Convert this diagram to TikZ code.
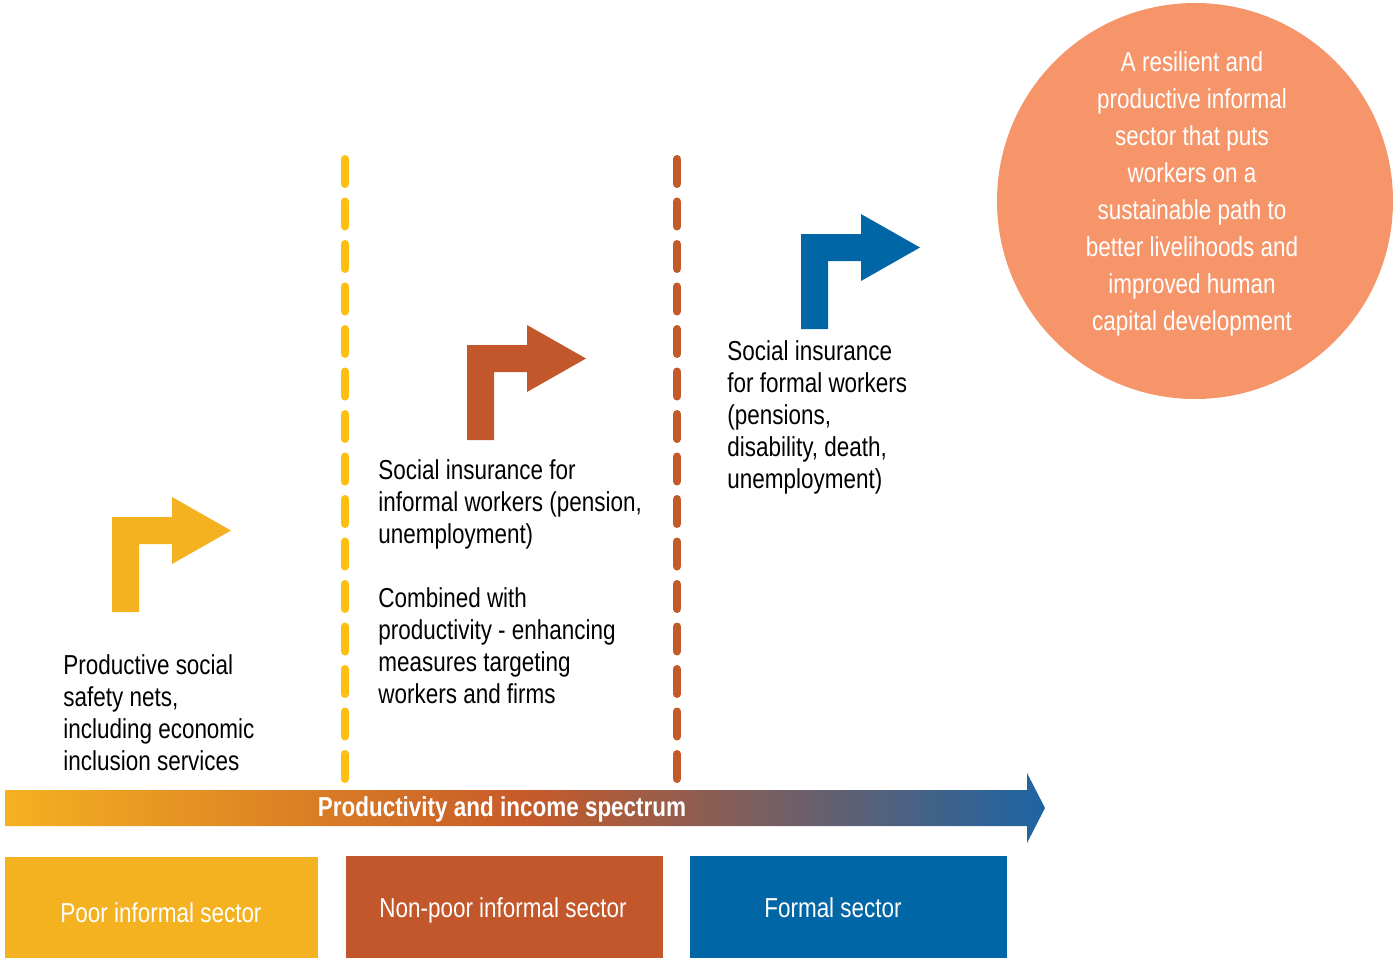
\documentclass[tikz,border=0pt]{standalone}
\usepackage{fontspec}
\setmainfont{Liberation Sans}[FakeStretch=0.82]
\definecolor{cyel}{HTML}{F4B120}
\definecolor{cora}{HTML}{C1572B}
\definecolor{cblu}{HTML}{0166A5}
\definecolor{cdyel}{HTML}{FDC010}
\definecolor{cdora}{HTML}{C35A2A}
\definecolor{ccirc}{HTML}{F6956A}
\definecolor{cgrmid}{HTML}{C75A29}
\definecolor{cgrend}{HTML}{1D64A3}
\begin{document}
\begin{tikzpicture}[x=0.5pt,y=-0.5pt,
  txt/.style={inner sep=0pt,font=\fontsize{13.7pt}{16pt}\selectfont,align=left,anchor=north west},
  wtxt/.style={inner sep=0pt,font=\fontsize{13.7pt}{16pt}\selectfont,text=white,anchor=base},
  sep/.style={line width=4pt,line cap=round,dash pattern=on 12.5pt off 8.75pt}]
\useasboundingbox (0,0) rectangle (1394,958);
% separators
\coordinate (s1t) at (345,159); \coordinate (s1b) at (345,779);
\coordinate (s2t) at (677,159); \coordinate (s2b) at (677,779);
\draw[sep,cdyel] (s1t) -- (s1b);
\draw[sep,cdora] (s2t) -- (s2b);
% bent arrows
\foreach \px/\py/\cc in {112/517/cyel,467/345/cora,801/234/cblu}{
\begin{scope}[shift={(\px,\py)}]
\fill[\cc] (0,95) -- (0,0) -- (60,0) -- (60,-20) -- (119,13.5) -- (60,47) -- (60,27) -- (27,27) -- (27,95) -- cycle;
\end{scope}}
% spectrum arrow
\shade[left color=cyel,right color=cgrend,middle color=cgrmid]
  (5,790) -- (1027,790) -- (1027,773) -- (1045,808) -- (1027,843) -- (1027,826) -- (5,826) -- cycle;
\node[wtxt,font=\fontsize{13.7pt}{16pt}\selectfont\bfseries] (spec) at (502,816) {Productivity and income spectrum};
% sector boxes
\fill[cyel] (5,857) rectangle (318,958);
\fill[cora] (346,856) rectangle (663,958);
\fill[cblu] (690,856) rectangle (1007,958);
\node[wtxt] (poor) at (161,922) {Poor informal sector};
\node[wtxt] (nonpoor) at (503,917) {Non-poor informal sector};
\node[wtxt] (formal) at (833,917) {Formal sector};
% texts
\node[txt] (t1) at (63,654) {Productive social\\safety nets,\\including economic\\inclusion services};
\node[txt] (t2) at (378,459) {Social insurance for\\informal workers (pension,\\unemployment)};
\node[txt] (t2b) at (378,587) {Combined with\\productivity - enhancing\\measures targeting\\workers and firms};
\node[txt] (t3) at (727,340) {Social insurance\\for formal workers\\(pensions,\\disability, death,\\unemployment)};
% goal circle
\fill[ccirc] (1195,201) circle[radius=198];
\node[inner sep=0pt,text=white,align=center,font=\fontsize{13.7pt}{18.5pt}\selectfont] (goal) at (1192,194)
 {A resilient and\\productive informal\\sector that puts\\workers on a\\sustainable path to\\better livelihoods and\\improved human\\capital development};
\end{tikzpicture}
\end{document}
